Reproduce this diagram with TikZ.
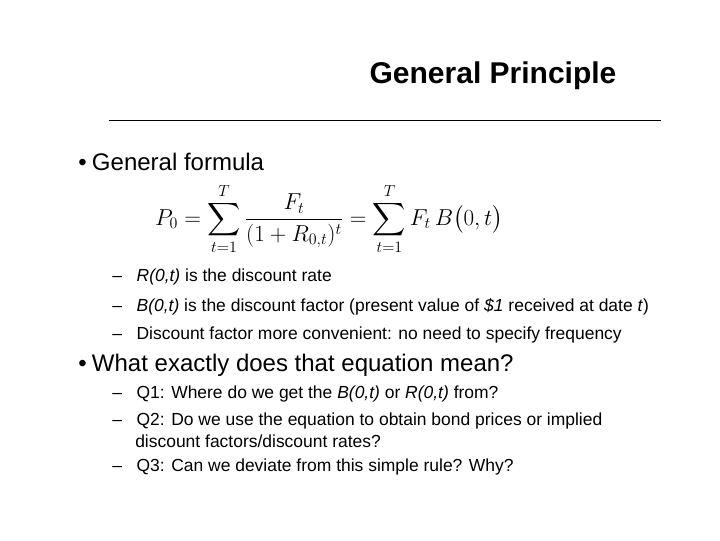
\documentclass[tikz,border=0pt]{standalone}
\usepackage{fontspec}
\setmainfont{Liberation Sans}
\usepackage{amsmath}
\begin{document}
\begin{tikzpicture}[x=0.75pt,y=-0.75pt,
  body/.style={anchor=west,inner sep=0pt,font=\fontsize{18}{21}\selectfont},
  sub/.style={anchor=west,inner sep=0pt,font=\fontsize{13.1}{15}\selectfont}]
\useasboundingbox[fill=white] (0,0) rectangle (720,540);
\node[inner sep=0pt,font=\bfseries\fontsize{22.5}{26}\selectfont] (title) at (493,76) {General Principle};
\coordinate (l1) at (109,120); \coordinate (l2) at (661,120);
\draw[line width=0.6pt] (l1) -- (l2);
\node[body] (b1) at (78,162) {•\hspace{4pt}General formula};
\node[inner sep=0pt] (f) at (329,219) {\fontsize{17.5}{21}\selectfont$\displaystyle P_0=\sum_{t=1}^{T}\frac{F_t}{(1+R_{0,t})^t}=\sum_{t=1}^{T}F_t\,B\big(0,t\big)$};
\node[sub] (s1) at (112,277) {–\hspace{11pt}\textit{R(0,t)} is the discount rate};
\node[sub] (s2) at (112,307) {–\hspace{11pt}\textit{B(0,t)} is the discount factor (present value of \textit{\$1} received at date \textit{t})};
\node[sub] (s3) at (112,335) {–\hspace{11pt}Discount factor more convenient: no need to specify frequency};
\node[body] (b2) at (78,365) {•\hspace{4pt}What exactly does that equation mean?};
\node[sub] (s4) at (112,394) {–\hspace{11pt}Q1: Where do we get the \textit{B(0,t)} or \textit{R(0,t)} from?};
\node[sub] (s5) at (112,421) {–\hspace{11pt}Q2: Do we use the equation to obtain bond prices or implied};
\node[sub] (s6) at (135,441) {discount factors/discount rates?};
\node[sub] (s7) at (112,467) {–\hspace{11pt}Q3: Can we deviate from this simple rule? Why?};
\end{tikzpicture}
\end{document}
